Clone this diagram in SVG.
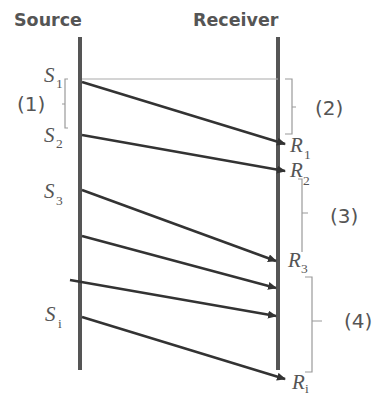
<svg xmlns="http://www.w3.org/2000/svg" width="374" height="397" viewBox="0 0 374 397">
<style>
.hdr{font-family:"DejaVu Sans",sans-serif;font-weight:bold;font-size:17.5px;fill:#555}
.num{font-family:"DejaVu Sans",sans-serif;font-size:20px;fill:#555}
.lbl{font-family:"Liberation Serif",serif;font-style:italic;font-size:21px;fill:#555}
.sub{font-family:"Liberation Serif",serif;font-size:13.5px;fill:#555}
.life{stroke:#555;stroke-width:4;fill:none}
.msg{stroke:#333;stroke-width:2.5;fill:none;marker-end:url(#ah)}
.br{stroke:#9a9a9a;stroke-width:1.2;fill:none}
</style>
<defs>
<marker id="ah" markerWidth="10" markerHeight="8" refX="8" refY="4" orient="auto" markerUnits="userSpaceOnUse">
<path d="M0,0 L9,4 L0,8 Z" fill="#333"/>
</marker>
</defs>
<rect width="374" height="397" fill="#fff"/>
<g id="source">
<text class="hdr" x="14" y="26">Source</text>
<line class="life" x1="80" y1="37" x2="80" y2="370"/>
</g>
<g id="receiver">
<text class="hdr" x="193" y="26">Receiver</text>
<line class="life" x1="278" y1="37" x2="278" y2="370"/>
</g>
<g id="s-labels">
<text class="lbl" x="44" y="82">S</text><text class="sub" x="56" y="88">1</text>
<text class="lbl" x="44" y="142">S</text><text class="sub" x="56" y="148">2</text>
<text class="lbl" x="44" y="198">S</text><text class="sub" x="56" y="205">3</text>
<text class="lbl" x="45" y="321">S</text><text class="sub" x="58" y="328">i</text>
</g>
<g id="r-labels">
<text class="lbl" x="290" y="152">R</text><text class="sub" x="304" y="159">1</text>
<text class="lbl" x="290" y="177">R</text><text class="sub" x="303" y="185">2</text>
<text class="lbl" x="288" y="267">R</text><text class="sub" x="301" y="273">3</text>
<text class="lbl" x="292" y="389">R</text><text class="sub" x="305" y="393">i</text>
</g>
<g id="brackets">
<line x1="82" y1="79" x2="278" y2="79" stroke="#aaa" stroke-width="1.2"/>
<path class="br" d="M68,79 H65 V128 H68 M65,104 H62"/>
<text class="num" x="17" y="111">(1)</text>
<path class="br" d="M285,79 H292 V134 H285 M292,107 H296"/>
<text class="num" x="315" y="115">(2)</text>
<path class="br" d="M298,179 H302 V252 M302,213 H308"/>
<text class="num" x="330" y="223">(3)</text>
<path class="br" d="M305,277 H312 V372 H305 M312,321 H322"/>
<text class="num" x="344" y="328">(4)</text>
</g>
<g id="connectors">
<line class="msg" x1="82" y1="82" x2="285" y2="144"/>
<line class="msg" x1="82" y1="135" x2="285" y2="171"/>
<line class="msg" x1="82" y1="190" x2="276" y2="261"/>
<line class="msg" x1="82" y1="236" x2="276" y2="288"/>
<line class="msg" x1="70" y1="280" x2="276" y2="316"/>
<line class="msg" x1="82" y1="317" x2="285" y2="379"/>
</g>
</svg>
